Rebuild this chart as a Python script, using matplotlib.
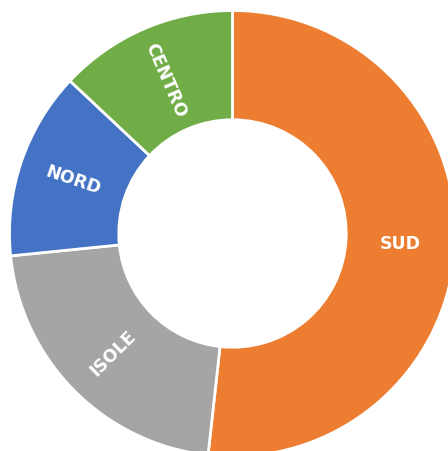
import numpy as np
import matplotlib
matplotlib.use("Agg")
import matplotlib.pyplot as plt

# quota per area geografica (percentuali)
labels = ["SUD", "ISOLE", "NORD", "CENTRO"]
values = [51.75, 21.65, 13.6, 13.0]
colors = ["#ED7D31", "#A5A5A5", "#4472C4", "#70AD47"]

fig = plt.figure(figsize=(4.48, 4.52), dpi=100)
ax = fig.add_axes([0, 0, 1, 1])

R = 1.0
hole = 0.51
wedges, _ = ax.pie(values, colors=colors, startangle=90, counterclock=False,
                   radius=R, wedgeprops=dict(width=R - hole, edgecolor="white", linewidth=2))

# etichette radiali dentro l'anello
rmid = (R + hole) / 2
for w, lab in zip(wedges, labels):
    ang = (w.theta1 + w.theta2) / 2
    x = rmid * np.cos(np.deg2rad(ang))
    y = rmid * np.sin(np.deg2rad(ang))
    rot = ang if np.cos(np.deg2rad(ang)) >= 0 else ang - 180
    rot = (rot + 180) % 360 - 180
    if abs(rot) < 5:
        rot = 0
    ax.text(x, y, lab, ha="center", va="center", rotation=rot,
            rotation_mode="anchor", color="white", fontsize=12.5,
            fontweight="bold", family="DejaVu Sans")

# il grafico originale e' tagliato a destra e in basso
px = 223.0
cx, cy = 232.5, 234.5
ax.set_xlim(-cx / px, (448 - cx) / px)
ax.set_ylim(-(452 - cy) / px, cy / px)
ax.set_aspect("auto")
ax.axis("off")

fig.savefig("out.png", dpi=100)
